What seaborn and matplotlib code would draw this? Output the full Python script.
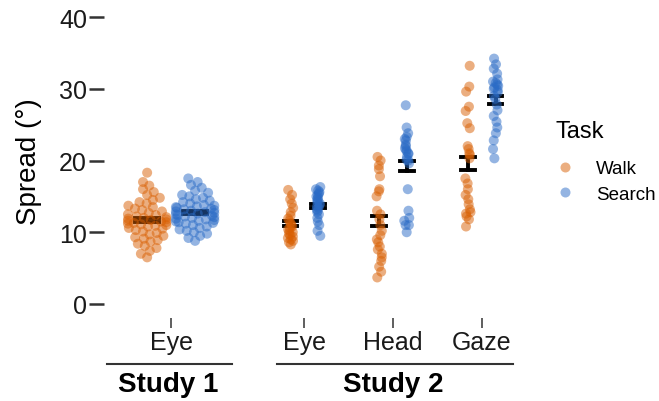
import matplotlib
matplotlib.use("Agg")
import matplotlib.pyplot as plt
import matplotlib.transforms as mtransforms
import seaborn as sns
import numpy as np
import pandas as pd

# spread values (degrees), one list per study / measure / task
s1_eye_walk = [18.3, 17.0, 16.5, 16.0, 15.6, 15.2, 14.8, 14.5, 14.2, 14.0,
               13.7, 13.5, 13.3, 13.1, 12.9, 12.7, 12.5, 12.4, 12.2, 12.1,
               12.0, 11.9, 11.8, 11.7, 11.6, 11.5, 11.4, 11.3, 11.2, 11.1,
               11.0, 10.9, 10.8, 10.6, 10.5, 10.3, 10.1, 9.9, 9.7, 9.5,
               9.3, 9.1, 8.9, 8.7, 8.4, 8.1, 7.8, 7.4, 7.0, 6.5]
s1_eye_search = [17.5, 17.0, 16.6, 16.2, 15.8, 15.5, 15.2, 15.0, 14.8, 14.6,
                 14.4, 14.2, 14.0, 13.8, 13.7, 13.6, 13.5, 13.4, 13.3, 13.2,
                 13.1, 13.0, 12.9, 12.8, 12.7, 12.6, 12.5, 12.4, 12.3, 12.2,
                 12.1, 12.0, 11.9, 11.8, 11.7, 11.6, 11.5, 11.4, 11.3, 11.2,
                 11.0, 10.8, 10.6, 10.4, 10.2, 10.0, 9.8, 9.5, 9.2, 8.8]
s2_eye_walk = [15.9, 15.2, 14.6, 14.0, 13.4, 12.8, 12.3, 11.9, 11.6, 11.3,
               11.0, 10.8, 10.6, 10.4, 10.2, 10.0, 9.8, 9.6, 9.4, 9.2,
               9.0, 8.8, 8.6, 8.3]
s2_eye_search = [16.3, 16.0, 15.8, 15.6, 15.4, 15.2, 15.0, 14.8, 14.6, 14.4,
                 14.2, 14.0, 13.8, 13.6, 13.4, 13.2, 13.0, 12.8, 12.5, 12.0,
                 11.5, 11.0, 10.2, 9.5]
s2_head_walk = [20.5, 20.0, 19.3, 18.8, 17.8, 16.0, 15.7, 15.0, 13.0, 12.5,
                11.8, 11.0, 10.2, 9.6, 9.0, 8.6, 8.0, 7.6, 7.0, 6.5,
                6.0, 5.2, 4.5, 3.7]
s2_head_search = [27.7, 24.6, 23.8, 23.3, 23.0, 22.8, 22.2, 22.0, 21.7, 21.5,
                  21.3, 21.0, 20.9, 20.5, 20.1, 20.0, 19.6, 16.0, 13.0, 12.0,
                  11.6, 11.0, 11.0, 10.0]
s2_gaze_walk = [33.2, 30.3, 29.6, 27.5, 26.9, 25.2, 24.5, 22.0, 21.6, 21.0,
                20.8, 20.3, 17.5, 16.8, 16.0, 15.2, 14.6, 13.9, 13.2, 12.8,
                12.6, 12.2, 11.8, 10.8]
s2_gaze_search = [34.2, 33.4, 32.8, 32.1, 31.3, 31.0, 30.8, 30.6, 30.4, 30.2,
                  30.0, 29.8, 29.5, 29.0, 28.6, 27.8, 27.0, 26.2, 25.4, 24.6,
                  23.8, 22.8, 21.6, 20.3]

tasks = ["Walk", "Search"]
tick_labels = ["Eye", "Eye", "Head", "Gaze"]
study_names = ["Study 1", "Study 2"]
palette = {"Walk": "#D95F02", "Search": "#2A6BC6"}

groups = [
    ("Study 1", "Eye", "Walk", s1_eye_walk),
    ("Study 1", "Eye", "Search", s1_eye_search),
    ("Study 2", "Eye", "Walk", s2_eye_walk),
    ("Study 2", "Eye", "Search", s2_eye_search),
    ("Study 2", "Head", "Walk", s2_head_walk),
    ("Study 2", "Head", "Search", s2_head_search),
    ("Study 2", "Gaze", "Walk", s2_gaze_walk),
    ("Study 2", "Gaze", "Search", s2_gaze_search),
]
rows = []
for study, measure, task, vals in groups:
    for v in vals:
        rows.append({"Study": study, "Measure": measure, "Task": task, "Spread": v})
df = pd.DataFrame(rows)

# one slot per measure, with a gap between the two studies
slot = {("Study 1", "Eye"): 0.0, ("Study 2", "Eye"): 1.5,
        ("Study 2", "Head"): 2.5, ("Study 2", "Gaze"): 3.5}
offset = {"Study 1": 0.27, "Study 2": 0.155}
df["x"] = [slot[(s, m)] + (-1 if t == "Walk" else 1) * offset[s]
           for s, m, t in zip(df["Study"], df["Measure"], df["Task"])]

plt.rcParams["font.family"] = ["Liberation Sans", "DejaVu Sans"]
np.random.seed(7)

fig = plt.figure(figsize=(6.59, 4.02), dpi=100)
ax = fig.add_axes([104 / 659, 82.65 / 402, 416 / 659, 315.7 / 402])

s1 = df[df["Study"] == "Study 1"]
s2 = df[df["Study"] == "Study 2"]

ax.set_ylim(-2, 42)
ax.set_xlim(-0.756, 3.93)

# study 1: a tight swarm laid out with small dots, then the dots are enlarged
# so that they overlap like a quasirandom beeswarm
sns.swarmplot(data=s1, x="x", y="Spread", hue="Task", hue_order=tasks,
              palette=palette, native_scale=True, size=5.0, alpha=0.5,
              linewidth=0, legend=False, ax=ax, warn_thresh=1)
swarms = list(ax.collections)
ax.set_ylim(-2, 42)
ax.set_xlim(-0.756, 3.93)
fig.canvas.draw()
for coll in swarms:
    if "draw" in coll.__dict__:
        del coll.draw
    coll.set_sizes([7.2 ** 2])

sns.stripplot(data=s2, x="x", y="Spread", hue="Task", hue_order=tasks,
              palette=palette, native_scale=True, jitter=0.1, size=7.2,
              alpha=0.5, linewidth=0, ax=ax)

# mean +/- SE (bars in the original are a bit tighter than a plain SE)
for sub in (s1, s2):
    sns.pointplot(data=sub, x="x", y="Spread", hue="Task", hue_order=tasks,
                  palette=["black", "black"], native_scale=True,
                  errorbar=("se", 0.7), capsize=0.5, linestyle="none",
                  marker="none", err_kws={"linewidth": 2.8}, legend=False,
                  ax=ax)

ax.set_ylim(-2, 42)
ax.set_xlim(-0.756, 3.93)
ax.set_yticks([0, 10, 20, 30, 40])
ax.set_xticks([slot[k] for k in slot])
ax.set_xticklabels(tick_labels)
ax.set_xlabel("")
ax.set_ylabel("Spread (°)", fontsize=20, labelpad=12)
for sp in ax.spines.values():
    sp.set_visible(False)
ax.tick_params(axis="y", length=10.8, width=1.8, color="#333333",
               labelsize=18, pad=1.5, labelcolor="#1a1a1a")
ax.tick_params(axis="x", length=7, width=1.1, color="#333333",
               labelsize=18, pad=1.5, labelcolor="#1a1a1a")

# study brackets under the tick labels
trans = mtransforms.blended_transform_factory(ax.transData, ax.transAxes)
spans = [(-0.72, 0.69), (1.197, 3.85)]
for name, (x0, x1) in zip(study_names, spans):
    ax.plot([x0, x1], [-0.1446, -0.1446], transform=trans, color="#333333",
            linewidth=1.5, clip_on=False)
    ax.text((x0 + x1) / 2 - 0.02, -0.208, name, transform=trans, ha="center",
            va="center", fontsize=20, fontweight="bold")

sns.move_legend(ax, "upper left", bbox_to_anchor=(556 / 659, 1 - 121 / 402),
                bbox_transform=fig.transFigure, frameon=False, title="Task",
                fontsize=13.5, title_fontsize=17, alignment="left",
                handlelength=1.0, handletextpad=1.15, labelspacing=0.45,
                borderpad=0, borderaxespad=0)
leg = ax.get_legend()
leg._legend_box.sep = 13

fig.savefig("out.png", dpi=100)
